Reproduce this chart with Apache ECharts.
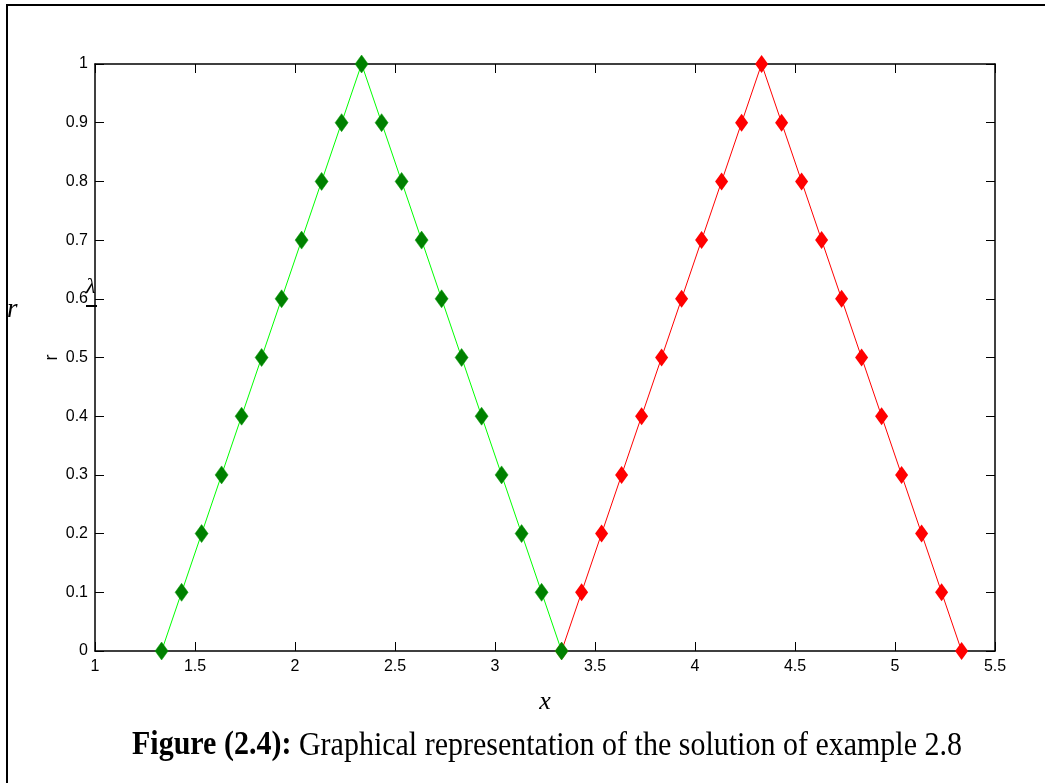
<!DOCTYPE html>
<html>
<head>
<meta charset="utf-8">
<script src="https://cdn.jsdelivr.net/npm/echarts@6/dist/echarts.min.js"></script>
<style>
  html, body { margin: 0; padding: 0; background: #fff; }
  #chart { width: 1045px; height: 783px; }
</style>
</head>
<body>
<div id="chart"></div>
<script>
// Triangular membership functions sampled at membership steps of 0.1
const greenX = [1.333, 1.433, 1.533, 1.633, 1.733, 1.833, 1.933, 2.033, 2.133, 2.233, 2.333,
                2.433, 2.533, 2.633, 2.733, 2.833, 2.933, 3.033, 3.133, 3.233, 3.333];
const greenY = [0, 0.1, 0.2, 0.3, 0.4, 0.5, 0.6, 0.7, 0.8, 0.9, 1,
                0.9, 0.8, 0.7, 0.6, 0.5, 0.4, 0.3, 0.2, 0.1, 0];
const redX = [3.333, 3.433, 3.533, 3.633, 3.733, 3.833, 3.933, 4.033, 4.133, 4.233, 4.333,
              4.433, 4.533, 4.633, 4.733, 4.833, 4.933, 5.033, 5.133, 5.233, 5.333];
const redY = [0, 0.1, 0.2, 0.3, 0.4, 0.5, 0.6, 0.7, 0.8, 0.9, 1,
              0.9, 0.8, 0.7, 0.6, 0.5, 0.4, 0.3, 0.2, 0.1, 0];
const xTicks = [1, 1.5, 2, 2.5, 3, 3.5, 4, 4.5, 5, 5.5];
const yTicks = [0, 0.1, 0.2, 0.3, 0.4, 0.5, 0.6, 0.7, 0.8, 0.9, 1];

const zip = (xs, ys) => xs.map((x, i) => [x, ys[i]]);

const chart = echarts.init(document.getElementById('chart'), null, { renderer: 'canvas' });

const tickFont = { fontFamily: 'Liberation Sans, Arial, sans-serif', fontSize: 16, color: '#000' };
const frameLine = { show: true, onZero: false, lineStyle: { color: '#000', width: 1.5 } };
const inTick = { show: true, inside: true, length: 9, lineStyle: { color: '#000', width: 1 } };

chart.setOption({
  animation: false,
  backgroundColor: '#fff',
  grid: { left: 95, right: 50, top: 64, bottom: 132, containLabel: false },
  xAxis: [
    {
      type: 'value', min: xTicks[0], max: xTicks[xTicks.length - 1], interval: 0.5,
      position: 'bottom',
      axisLine: frameLine, axisTick: inTick, splitLine: { show: false },
      axisLabel: Object.assign({ margin: 8, formatter: v => String(v) }, tickFont),
      name: 'x', nameLocation: 'middle', nameGap: 38, nameMoveOverlap: false,
      nameTextStyle: { fontFamily: 'Liberation Serif, Times New Roman, serif', fontStyle: 'italic', fontSize: 26, color: '#000' }
    },
    {
      type: 'value', min: xTicks[0], max: xTicks[xTicks.length - 1], interval: 0.5,
      position: 'top',
      axisLine: frameLine, axisTick: inTick, splitLine: { show: false },
      axisLabel: { show: false }
    }
  ],
  yAxis: [
    {
      type: 'value', min: yTicks[0], max: yTicks[yTicks.length - 1], interval: 0.1,
      position: 'left',
      axisLine: frameLine, axisTick: inTick, splitLine: { show: false },
      axisLabel: Object.assign({ margin: 7, formatter: v => String(Math.round(v * 10) / 10) }, tickFont),
      name: 'r', nameLocation: 'middle', nameGap: 34, nameRotate: 90, nameMoveOverlap: false,
      nameTextStyle: { fontFamily: 'Liberation Sans, Arial, sans-serif', fontSize: 18, color: '#000' }
    },
    {
      type: 'value', min: yTicks[0], max: yTicks[yTicks.length - 1], interval: 0.1,
      position: 'right',
      axisLine: frameLine, axisTick: inTick, splitLine: { show: false },
      axisLabel: { show: false }
    }
  ],
  series: [
    {
      type: 'line', name: 'red', data: zip(redX, redY), z: 2,
      lineStyle: { color: '#ff0000', width: 1 },
      symbol: 'diamond', symbolSize: [13, 18], showAllSymbol: true,
      itemStyle: { color: '#ff0000', borderColor: '#ff0000', borderWidth: 0 }
    },
    {
      type: 'line', name: 'green', data: zip(greenX, greenY), z: 3,
      lineStyle: { color: '#00ff00', width: 1 },
      symbol: 'diamond', symbolSize: [13, 18], showAllSymbol: true,
      itemStyle: { color: '#008000', borderColor: '#00a000', borderWidth: 0.5 }
    }
  ],
  graphic: [
    {
      type: 'rect', silent: true, z: -1,
      shape: { x: 7, y: 5, width: 1100, height: 900 },
      style: { fill: 'none', stroke: '#000', lineWidth: 2 }
    },
    {
      type: 'text', left: 7, top: 296,
      style: { text: 'r', font: 'italic 27px "Liberation Serif", serif', fill: '#000' }
    },
    {
      type: 'text', left: 86, top: 276,
      style: { text: 'λ', font: 'italic 22px "Liberation Serif", serif', fill: '#000' }
    },
    {
      type: 'line', shape: { x1: 86, y1: 306, x2: 97, y2: 306 },
      style: { stroke: '#000', lineWidth: 2 }
    },
    {
      type: 'text', x: 132, y: 729, scaleY: 1.12,
      style: {
        text: '{b|Figure (2.4):} Graphical representation of the solution of example 2.8',
        font: '30px "Liberation Serif", "Times New Roman", serif',
        fill: '#000',
        rich: {
          b: { fontWeight: 'bold', fontSize: 30, fontFamily: 'Liberation Serif', fill: '#000' }
        }
      }
    }
  ]
});
</script>
</body>
</html>
